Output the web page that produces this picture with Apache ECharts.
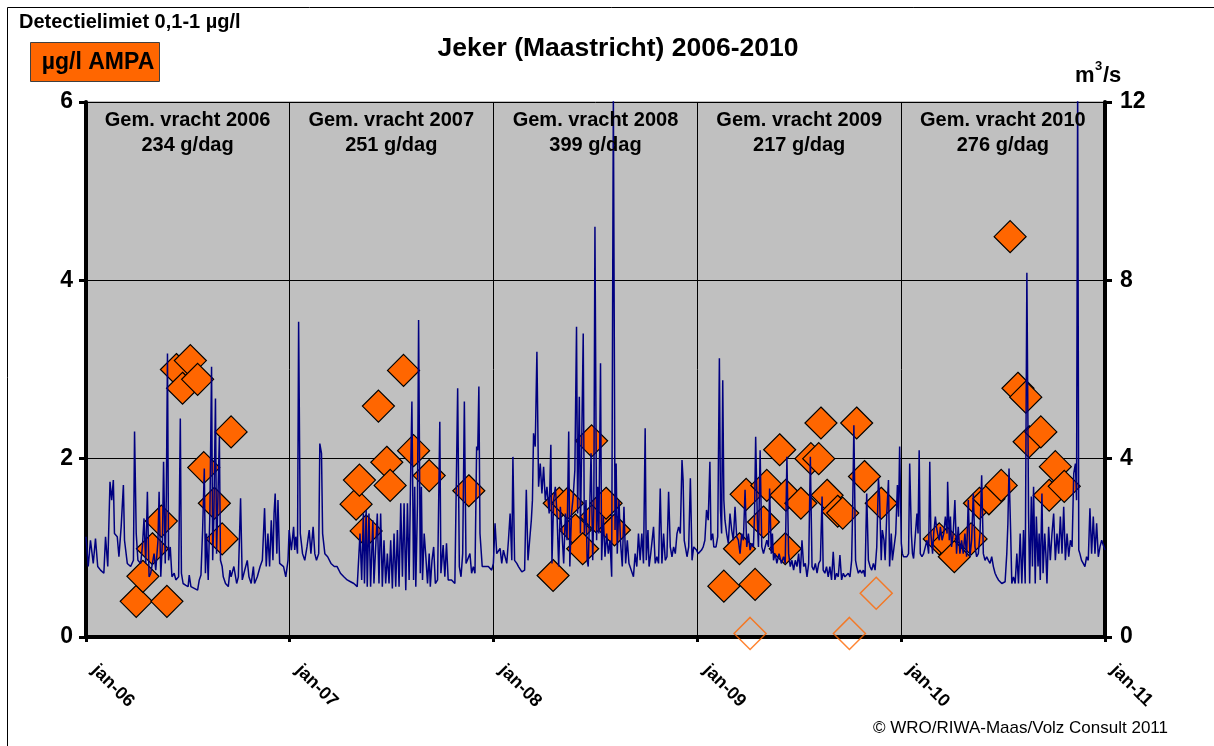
<!DOCTYPE html>
<html><head><meta charset="utf-8">
<script src="https://cdn.jsdelivr.net/npm/echarts@6/dist/echarts.min.js"></script>
<style>html,body{margin:0;padding:0;background:#fff}#c{width:1214px;height:746px}</style>
</head><body><div id="c"></div>
<script>
// ---- DATA ----
const loadYears = ['2006', '2007', '2008', '2009', '2010'];
const loadValues = [234, 251, 399, 217, 276]; // Gem. vracht, g/dag

// AMPA measurements (µg/l)
const ampaDates = [
  '2006-04-01','2006-04-13','2006-04-30','2006-05-16','2006-05-26','2006-06-12','2006-06-23','2006-07-07','2006-07-20','2006-07-31','2006-08-19','2006-09-02','2006-09-18',
  '2007-04-30','2007-05-06','2007-05-18','2007-06-09','2007-06-24','2007-06-30','2007-07-24','2007-08-11','2007-09-08','2007-11-18',
  '2008-04-17','2008-04-28','2008-05-13','2008-05-27','2008-06-09','2008-06-25','2008-07-03','2008-07-21','2008-08-05',
  '2009-02-17','2009-03-17','2009-03-29','2009-04-14','2009-04-29','2009-05-05','2009-05-28','2009-06-07','2009-06-08','2009-07-05','2009-07-23','2009-08-06','2009-08-10','2009-08-21','2009-09-09','2009-09-18','2009-10-13','2009-10-27','2009-11-26',
  '2010-03-10','2010-03-25','2010-04-06','2010-05-06','2010-05-21','2010-06-07','2010-06-29','2010-07-15','2010-07-29','2010-08-12','2010-08-18','2010-09-08','2010-09-23','2010-10-04','2010-10-20'
];
const ampaValues = [
  0.40,0.68,0.99,1.30,0.40,3.00,2.79,3.10,2.89,1.90,1.50,1.10,2.30,
  1.49,1.76,1.19,2.59,1.96,1.70,2.99,2.09,1.81,1.64,
  0.69,1.50,1.50,1.20,0.99,2.20,1.35,1.50,1.20,
  0.57,0.99,1.60,0.59,1.29,1.70,2.10,0.99,1.59,1.50,2.00,2.00,2.40,1.59,1.41,1.39,2.40,1.80,1.50,
  1.10,1.05,0.90,1.10,1.50,1.55,1.70,4.49,2.79,2.69,2.19,2.30,1.59,1.91,1.69
];
// below detection limit (open symbols)
const belowLimitDates = ['2009-04-05', '2009-09-30', '2009-11-17'];
const belowLimitValues = [0.04, 0.04, 0.49];

// Discharge (m3/s): [day number since 2006-01-01, value]
const flowReadings = [
[0,2.25],[4,1.58],[8,2.17],[13,1.65],[17,2.21],[21,1.58],[26,1.50],[32,1.43],[35,2.25],[39,1.58],[43,3.48],[46,3.07],[49,3.52],[51,2.32],[56,2.25],[59,1.80],[63,2.47],[67,3.41],[69,2.17],[74,1.65],[80,1.58],[85,1.72],[87,4.61],[90,2.32],[93,1.72],[98,1.65],[101,2.02],[104,2.66],[107,1.65],[110,3.26],[113,1.35],[116,1.43],[122,1.87],[125,1.50],[129,2.17],[131,3.26],[134,1.35],[137,2.17],[139,3.93],[142,1.65],[144,3.22],[146,6.36],[148,1.72],[151,2.02],[154,1.35],[158,1.43],[161,1.28],[166,1.35],[169,4.90],[171,1.43],[174,1.20],[179,1.16],[183,1.13],[185,1.39],[188,1.13],[194,1.09],[200,1.05],[203,1.28],[206,1.39],[209,2.40],[212,3.78],[214,1.43],[216,2.32],[219,1.28],[222,2.77],[225,6.06],[227,1.72],[229,2.62],[232,5.35],[234,1.87],[237,3.45],[239,4.49],[241,1.72],[244,1.58],[246,1.35],[250,1.20],[255,1.13],[258,1.50],[260,1.35],[265,1.58],[270,1.20],[273,1.35],[277,3.11],[280,1.28],[283,1.43],[289,1.72],[292,1.35],[296,1.20],[300,1.58],[302,1.20],[307,1.35],[312,1.58],[316,1.72],[320,2.89],[323,1.58],[326,2.32],[329,1.58],[332,2.62],[335,1.72],[337,2.77],[339,3.22],[342,1.87],[344,3.07],[347,1.65],[349,1.65],[354,1.58],[358,1.35],[362,1.72],[364,2.40],[368,1.95],[372,2.47],[374,1.95],[376,2.25],[379,1.87],[381,7.07],[384,2.32],[386,2.10],[388,1.87],[392,1.72],[396,2.02],[400,2.40],[403,1.87],[407,2.47],[410,1.87],[413,1.72],[417,1.87],[419,4.34],[422,4.12],[424,2.32],[428,1.87],[433,1.80],[439,1.65],[445,1.58],[450,1.58],[456,1.43],[462,1.35],[468,1.28],[474,1.24],[480,1.20],[486,1.13],[489,1.09],[491,2.32],[494,1.28],[497,2.77],[499,1.20],[502,2.85],[504,1.13],[507,2.77],[510,1.13],[514,2.62],[516,1.20],[519,1.20],[522,2.77],[525,1.20],[528,2.77],[531,1.13],[534,2.17],[537,1.20],[540,1.87],[543,1.20],[546,2.17],[549,1.09],[552,2.32],[555,1.13],[558,2.40],[561,1.13],[564,3.00],[567,1.35],[570,3.00],[573,1.05],[576,3.00],[579,1.28],[582,3.82],[584,5.28],[587,1.28],[589,3.37],[591,1.13],[594,3.00],[596,7.11],[599,1.43],[601,3.37],[603,1.28],[606,2.32],[609,1.80],[612,1.20],[615,1.87],
[617,1.13],[620,1.72],[623,2.02],[626,1.20],[630,1.28],[634,4.83],[636,1.43],[640,2.06],[643,1.35],[646,2.10],[649,1.28],[655,1.28],[661,1.20],[666,5.58],[669,1.58],[672,1.35],[675,1.87],[678,5.28],[681,1.65],[684,1.65],[688,1.87],[691,1.43],[694,1.58],[697,1.43],[700,4.27],[702,4.19],[704,5.62],[706,2.32],[708,1.95],[710,1.58],[715,1.58],[721,1.58],[727,1.50],[730,1.65],[733,2.55],[736,1.87],[739,1.87],[742,1.99],[745,1.65],[748,1.95],[751,1.80],[754,1.65],[757,2.17],[760,2.77],[763,1.72],[765,4.04],[768,1.72],[772,1.65],[775,1.58],[781,1.46],[786,1.50],[789,3.30],[792,1.72],[795,2.17],[798,2.62],[800,3.07],[802,4.57],[805,4.27],[808,6.40],[811,3.37],[814,3.89],[817,3.22],[820,3.82],[823,3.07],[826,3.37],[830,2.77],[833,4.31],[835,1.65],[838,3.07],[841,3.37],[844,2.77],[847,1.58],[850,2.92],[853,2.32],[856,1.65],[859,2.77],[862,2.17],[865,4.61],[867,1.58],[870,2.77],[873,3.15],[876,3.74],[879,6.96],[881,2.77],[884,5.39],[886,2.32],[888,2.32],[891,6.81],[893,2.32],[896,3.07],[898,1.72],[900,1.58],[903,3.07],[905,4.12],[908,1.72],[910,2.92],[912,9.20],[915,2.17],[917,3.37],[919,2.32],[922,6.14],[924,1.72],[927,2.70],[930,1.80],[933,2.32],[936,1.87],[939,2.17],[942,1.35],[945,12.2],[948,2.40],[950,3.89],[952,1.87],[955,3.07],[958,2.10],[961,1.58],[964,2.92],[967,1.65],[970,2.17],[973,1.65],[977,1.50],[981,1.35],[984,1.87],[987,1.58],[990,2.32],[993,1.72],[996,2.32],[999,1.65],[1002,4.68],[1004,1.72],[1007,2.40],[1009,1.58],[1012,1.87],[1015,1.87],[1017,2.47],[1020,1.65],[1023,1.80],[1026,1.65],[1029,3.33],[1032,1.65],[1035,2.32],[1038,1.72],[1041,1.80],[1044,3.26],[1047,2.02],[1050,1.80],[1053,2.02],[1056,1.87],[1059,2.32],[1062,2.47],[1065,2.32],[1068,3.97],[1070,3.52],[1072,2.17],[1075,1.95],[1077,1.80],[1080,2.02],[1083,3.56],[1086,1.72],[1089,2.02],[1092,1.99],[1094,1.95],[1097,1.87],[1100,1.84],[1103,1.95],[1106,2.02],[1109,2.17],[1112,2.85],[1115,2.62],[1118,3.93],[1120,2.17],[1123,2.32],[1125,2.02],[1129,2.02],[1132,2.25],[1135,6.25],[1137,2.85],[1139,2.32],[1141,5.76],[1143,3.07],[1145,2.62],[1148,2.32],[1151,2.10],[1154,2.77],[1157,2.40],[1160,2.17],[1163,2.92],[1166,2.25],[1169,2.17],[1172,1.87],[1175,2.32],[1178,2.17],[1181,3.30],[1184,2.02],[1187,2.32],[1190,1.95],[1193,2.10],[1196,2.02],[1198,2.77],[1200,4.49],[1203,2.62],[1205,2.02],[1208,4.19],[1211,2.02],[1214,1.87],[1217,1.87],[1220,2.17],
[1223,2.02],[1225,3.33],[1228,1.87],[1230,2.32],[1232,1.72],[1235,1.87],[1238,1.65],[1242,1.87],[1246,1.65],[1250,1.80],[1253,1.65],[1256,4.04],[1259,1.87],[1262,1.58],[1265,1.72],[1268,1.50],[1271,1.72],[1274,1.58],[1277,1.87],[1280,1.43],[1283,2.17],[1286,1.58],[1289,1.65],[1292,1.35],[1295,1.65],[1298,4.04],[1301,1.58],[1304,1.50],[1307,1.65],[1310,1.43],[1313,1.65],[1316,1.72],[1319,3.15],[1321,1.50],[1324,1.43],[1327,1.58],[1330,1.35],[1333,1.58],[1336,1.28],[1339,1.91],[1342,1.28],[1345,1.43],[1348,1.35],[1351,1.84],[1354,1.28],[1357,1.43],[1360,1.35],[1363,1.35],[1366,1.43],[1369,1.35],[1372,1.72],[1374,3.00],[1376,4.75],[1379,1.72],[1381,1.58],[1384,1.43],[1387,1.50],[1390,1.43],[1393,1.50],[1396,1.35],[1399,3.22],[1402,1.72],[1405,1.58],[1408,1.50],[1411,1.65],[1414,1.50],[1417,2.02],[1420,3.56],[1422,3.15],[1425,1.72],[1427,2.40],[1430,2.17],[1432,1.72],[1435,2.77],[1438,3.52],[1440,1.58],[1443,2.32],[1445,1.72],[1448,1.72],[1451,2.32],[1454,3.41],[1456,2.70],[1458,4.27],[1461,2.10],[1463,1.87],[1465,1.80],[1468,1.80],[1471,1.80],[1474,1.87],[1476,3.89],[1479,2.32],[1481,1.87],[1483,1.76],[1486,1.72],[1489,2.77],[1491,2.32],[1493,4.19],[1495,1.87],[1498,1.80],[1501,1.87],[1504,2.02],[1507,2.17],[1510,1.87],[1512,3.93],[1514,2.32],[1517,1.87],[1519,2.32],[1522,2.70],[1524,2.47],[1526,2.32],[1529,2.17],[1531,2.47],[1534,2.17],[1537,2.32],[1540,2.70],[1543,2.32],[1544,3.48],[1547,2.17],[1549,2.70],[1551,2.02],[1554,2.32],[1557,3.07],[1560,1.87],[1563,2.47],[1566,1.87],[1569,2.17],[1572,1.87],[1575,2.32],[1578,1.80],[1581,3.07],[1584,1.80],[1587,2.17],[1590,3.22],[1593,2.02],[1596,1.80],[1599,1.87],[1602,2.32],[1605,3.63],[1608,1.87],[1611,1.72],[1614,1.80],[1617,1.72],[1620,1.65],[1623,1.80],[1626,1.58],[1629,1.43],[1632,1.35],[1635,1.28],[1638,1.28],[1641,1.20],[1644,1.20],[1647,1.24],[1650,1.87],[1652,2.55],[1654,3.78],[1657,2.32],[1659,1.20],[1662,1.35],[1665,1.20],[1668,1.87],[1671,1.20],[1674,2.32],[1677,1.20],[1680,2.40],[1683,1.20],[1686,8.17],[1689,2.77],[1691,1.20],[1694,3.15],[1696,1.58],[1698,3.37],[1701,1.20],[1703,2.70],[1706,1.58],[1708,2.32],[1710,1.28],[1713,3.22],[1715,1.43],[1718,2.32],[1720,1.87],[1722,1.20],[1725,2.47],[1728,1.72],[1731,2.32],[1734,2.77],[1737,1.72],[1740,2.32],[1743,1.87],[1746,2.70],[1749,1.87],[1752,2.92],[1755,1.72],[1758,2.32],[1761,1.80],[1764,2.17],[1767,2.02],[1770,3.67],[1773,3.89],[1775,3.07],[1777,12.3],[1779,1.95],[1781,1.87],[1784,1.72],[1787,1.65],[1790,1.58],[1793,1.80],[1796,1.72],[1799,2.89],[1802,1.87],[1805,2.70],[1808,1.87],[1811,2.55],[1814,1.80],[1817,2.02],[1820,2.17],[1826,1.95]
];

// ---- CHART ----
const FONT = '"Liberation Sans", Arial, sans-serif';
const dayToTime = d => new Date(2006, 0, 1 + d).getTime();
const chart = echarts.init(document.getElementById('c'), null, {renderer: 'canvas'});

const axisLineStyle = {color: '#000', width: 4};
chart.setOption({
  animation: false,
  backgroundColor: '#fff',
  textStyle: {fontFamily: FONT},
  title: {
    text: 'Jeker (Maastricht) 2006-2010', left: 613, top: 30, textAlign: 'center',
    textStyle: {fontSize: 26.5, fontWeight: 'bold', color: '#000', fontFamily: FONT}
  },
  grid: {left: 86, right: 109, top: 102, bottom: 109, show: true,
         backgroundColor: '#C0C0C0', borderColor: '#808080', borderWidth: 1},
  xAxis: {
    type: 'time', min: '2006-01-01', max: '2011-01-01',
    minInterval: 365 * 864e5, maxInterval: 366 * 864e5,
    axisLine: {lineStyle: axisLineStyle},
    axisTick: {show: true, length: 5, lineStyle: {width: 3, color: '#000'}},
    axisLabel: {
      rotate: -45, margin: 22, fontSize: 18, fontWeight: 'bold', color: '#000', fontFamily: FONT,
      padding: [0, 0, 0, 12],
      showMinLabel: true, showMaxLabel: true, hideOverlap: false,
      formatter: v => 'jan-' + String(new Date(v).getFullYear()).slice(2)
    },
    splitLine: {show: true, lineStyle: {color: '#000', width: 1}}
  },
  yAxis: [
    {type: 'value', min: 0, max: 6, interval: 2, position: 'left',
     axisLine: {show: true, lineStyle: axisLineStyle},
     axisTick: {show: true, length: 7, lineStyle: {width: 3, color: '#000'}},
     axisLabel: {fontSize: 23, fontWeight: 'bold', color: '#000', margin: 13, fontFamily: FONT},
     splitLine: {show: true, lineStyle: {color: '#000', width: 1}}},
    {type: 'value', min: 0, max: 12, interval: 4, position: 'right',
     axisLine: {show: true, lineStyle: axisLineStyle},
     axisTick: {show: true, length: 7, lineStyle: {width: 3, color: '#000'}},
     axisLabel: {fontSize: 23, fontWeight: 'bold', color: '#000', margin: 15, fontFamily: FONT},
     splitLine: {show: false}}
  ],
  series: [
    {
      name: 'below', type: 'scatter', yAxisIndex: 0, symbol: 'diamond', symbolSize: 32,
      data: belowLimitDates.map((d, i) => [d, belowLimitValues[i]]),
      itemStyle: {color: 'rgba(0,0,0,0)', borderColor: '#FF6600', borderWidth: 1.5}, z: 2, silent: true
    },
    {
      name: 'AMPA', type: 'scatter', yAxisIndex: 0, symbol: 'diamond', symbolSize: 32,
      data: ampaDates.map((d, i) => [d, ampaValues[i]]),
      itemStyle: {color: '#FF6600', borderColor: '#000', borderWidth: 1.2, opacity: 1}, z: 3, silent: true
    },
    {
      name: 'debiet', type: 'line', yAxisIndex: 1, showSymbol: false, symbol: 'none',
      data: flowReadings.map(([d, v]) => [dayToTime(d), v]),
      lineStyle: {color: '#000080', width: 1.5}, clip: true, z: 4, silent: true
    }
  ]
});

// Annotation texts positioned through the chart's own scales
const annot = [];
loadYears.forEach((y, i) => {
  const p = chart.convertToPixel({xAxisIndex: 0, yAxisIndex: 0}, [y + '-07-02', 6]);
  annot.push({type: 'text', x: p[0], y: p[1] + 18, z: 50, silent: true,
    style: {text: 'Gem. vracht ' + y, font: 'bold 20px ' + FONT, fill: '#000', align: 'center', verticalAlign: 'middle'}});
  annot.push({type: 'text', x: p[0], y: p[1] + 43, z: 50, silent: true,
    style: {text: loadValues[i] + ' g/dag', font: 'bold 20px ' + FONT, fill: '#000', align: 'center', verticalAlign: 'middle'}});
});

chart.setOption({
  graphic: [
    {type: 'rect', shape: {x: 7.5, y: 7.5, width: 1240, height: 780}, style: {fill: null, stroke: '#000', lineWidth: 1}, silent: true, z: 100},
    {type: 'text', x: 19, y: 22, style: {text: 'Detectielimiet 0,1-1 µg/l', font: 'bold 20px ' + FONT, fill: '#000', verticalAlign: 'middle'}},
    {type: 'rect', shape: {x: 30.5, y: 42.5, width: 129, height: 39}, style: {fill: '#FF6600', stroke: '#404040', lineWidth: 1}},
    {type: 'text', x: 98, y: 63, style: {text: 'µg/l AMPA', font: 'bold 23px ' + FONT, fill: '#000', align: 'center', verticalAlign: 'middle'}},
    {type: 'text', x: 1075, y: 76, style: {text: 'm', font: 'bold 22px ' + FONT, fill: '#000', verticalAlign: 'middle'}},
    {type: 'text', x: 1095, y: 66, style: {text: '3', font: 'bold 13px ' + FONT, fill: '#000', verticalAlign: 'middle'}},
    {type: 'text', x: 1103, y: 76, style: {text: '/s', font: 'bold 22px ' + FONT, fill: '#000', verticalAlign: 'middle'}},
    {type: 'text', x: 1168, y: 728, style: {text: '© WRO/RIWA-Maas/Volz Consult 2011', font: '17px ' + FONT, fill: '#000', align: 'right', verticalAlign: 'middle'}}
  ].concat(annot)
});
</script>
</body></html>
